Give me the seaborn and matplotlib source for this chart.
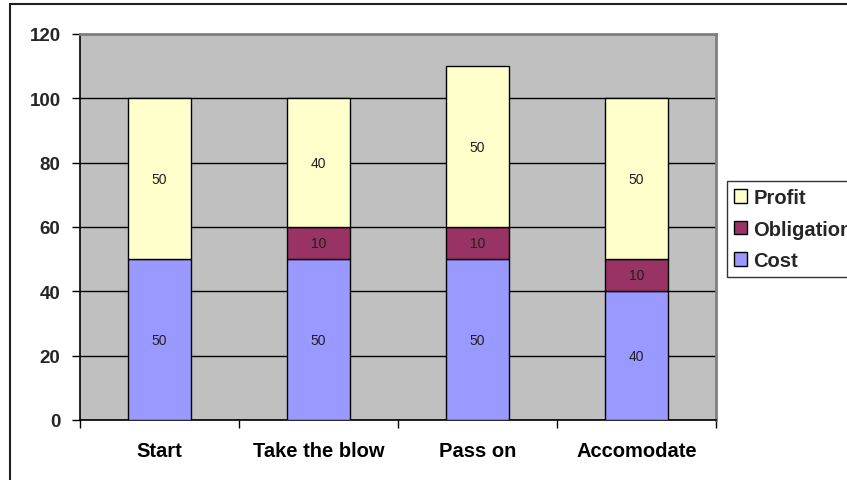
import matplotlib
matplotlib.use("Agg")
import matplotlib.pyplot as plt
import seaborn as sns
import pandas as pd
from matplotlib.lines import Line2D
from matplotlib.patches import Patch

# Scenario values for each stacked segment
categories = ["Start", "Take the blow", "Pass on", "Accomodate"]
cost = [50, 50, 50, 40]
obligation = [0, 10, 10, 10]
profit = [50, 40, 50, 50]
y_ticks = [0, 20, 40, 60, 80, 100, 120]

series = [("Cost", cost, "#9999FF"),
          ("Obligation", obligation, "#993366"),
          ("Profit", profit, "#FFFFCC")]

sns.set_theme(style="white")
plt.rcParams["font.family"] = ["Liberation Sans", "DejaVu Sans"]

fig = plt.figure(figsize=(8.47, 4.81), dpi=100)
W, H = 847, 481
ax = fig.add_axes([80 / W, 1 - 421 / H, 636 / W, 386 / H])
ax.set_facecolor("#C0C0C0")

df = pd.DataFrame({"category": categories, "Cost": cost,
                   "Obligation": obligation, "Profit": profit})

bottom = [0] * len(categories)
for name, vals, col in series:
    sns.barplot(data=df, x="category", y=name, bottom=bottom, color=col,
                width=0.4, edgecolor="black", linewidth=1.0, saturation=1,
                ax=ax, zorder=3)
    cont = ax.containers[-1]
    labels = [f"{v}" if v else "" for v in vals]
    ax.bar_label(cont, labels=labels, label_type="center", fontsize=10,
                 color="#202020", zorder=4)
    bottom = [b + v for b, v in zip(bottom, vals)]

# Hide zero-height segments
for cont in ax.containers:
    for p in cont.patches:
        if p.get_height() == 0:
            p.set_visible(False)

ax.set_ylim(0, 120)
ax.set_xlim(-0.5, 3.5)
ax.set_yticks(y_ticks)
ax.set_yticklabels([str(t) for t in y_ticks], fontsize=13.5, fontweight="bold")
ax.set_xticks(range(len(categories)))
ax.set_xticklabels(categories, fontsize=14.5, fontweight="bold")
ax.set_xticks([-0.5, 0.5, 1.5, 2.5, 3.5], minor=True)
ax.tick_params(axis="x", which="major", length=0, pad=15, colors="black")
ax.tick_params(axis="x", which="minor", length=6, width=1, color="black",
               direction="out", bottom=True)
ax.tick_params(axis="y", length=6, width=1, color="black", direction="out",
               left=True, pad=8)
ax.set_xlabel("")
ax.set_ylabel("")

ax.yaxis.grid(True, color="black", linewidth=1.0, zorder=1)
ax.set_axisbelow(True)
for s in ["left", "bottom"]:
    ax.spines[s].set_color("black")
    ax.spines[s].set_linewidth(1.2)
for s in ["top", "right"]:
    ax.spines[s].set_color("#808080")
    ax.spines[s].set_linewidth(2)

# Legend, listed top-down as Profit, Obligation, Cost
leg_handles = [Patch(facecolor=c, edgecolor="black", linewidth=1, label=n)
               for n, _, c in reversed(series)]
leg = fig.legend(handles=leg_handles, loc="upper left",
                 bbox_to_anchor=(727 / W, 1 - 182 / H),
                 frameon=True, fancybox=False, edgecolor="black",
                 prop={"weight": "bold", "size": 14.5},
                 handlelength=0.65, handleheight=0.65, handletextpad=0.3,
                 labelspacing=0.62, borderpad=0.35, borderaxespad=0)
leg.get_frame().set_linewidth(1.0)

# Outer chart border (left and top edges)
fig.add_artist(Line2D([10 / W, 10 / W], [0, 1 - 5 / H], transform=fig.transFigure,
                      color="#202020", linewidth=1.5))
fig.add_artist(Line2D([10 / W, 1], [1 - 5 / H, 1 - 5 / H], transform=fig.transFigure,
                      color="#202020", linewidth=1.5))

fig.savefig("out.png", dpi=100, facecolor="white")
